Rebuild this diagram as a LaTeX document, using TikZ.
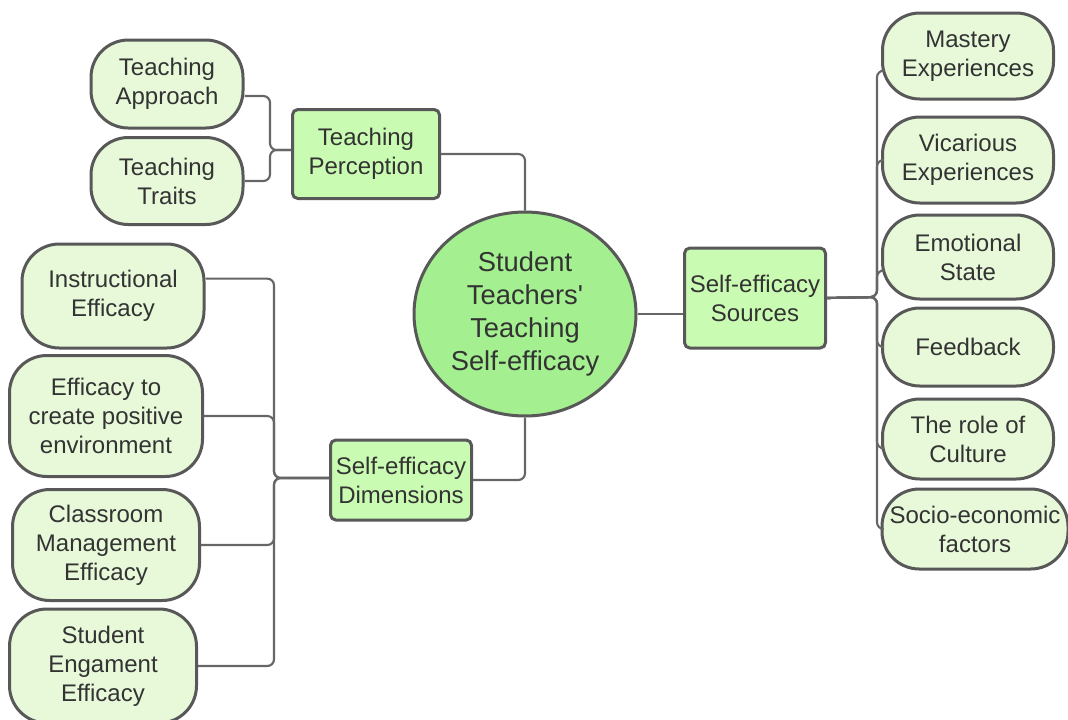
\documentclass[tikz,border=0pt]{standalone}
\usepackage{fontspec}
\setmainfont{Liberation Sans}
\usepackage{tikz}
\usetikzlibrary{shapes.geometric}
\usepackage{xcolor}
\definecolor{leaf}{HTML}{E7F9D9}
\definecolor{hub}{HTML}{CAFBB2}
\definecolor{core}{HTML}{A4F090}
\definecolor{rim}{HTML}{585858}
\definecolor{wire}{HTML}{666666}
\definecolor{ink}{HTML}{333333}
\tikzset{%
    box/.style={draw=rim,line width=2.25pt,align=center,inner sep=0pt,text=ink},
    leafbox/.style={box,fill=leaf,rounded corners=28pt,font=\fontsize{18}{21.75}\selectfont},
    hubbox/.style={box,fill=hub,rounded corners=4pt,font=\fontsize{18}{21.75}\selectfont},
    link/.style={draw=wire,line width=1.6pt,rounded corners=5pt}
}

\begin{document}
\begin{tikzpicture}[x=0.75pt,y=-0.75pt]
    \useasboundingbox (0,0) rectangle (1068,719);
    % middle
    \node[box,ellipse,fill=core,minimum width=166.5pt,minimum height=153pt,
        font=\fontsize{20.5}{24.75}\selectfont](C) at (525,314)
        {Student\\Teachers\textquotesingle\\Teaching\\Self-efficacy};
    \node[hubbox,minimum width=110.25pt,minimum height=66.75pt](TP) at (366,154) {Teaching\\Perception};
    \node[hubbox,minimum width=105.75pt,minimum height=60pt](SD) at (401,480) {Self-efficacy\\Dimensions};
    \node[hubbox,minimum width=105.75pt,minimum height=75pt](SS) at (755,298) {Self-efficacy\\Sources};
    % perception
    \node[leafbox,minimum width=114pt,minimum height=66pt](TA) at (167,84) {Teaching\\Approach};
    \node[leafbox,minimum width=114pt,minimum height=65.25pt](TT) at (167,181) {Teaching\\Traits};
    % dimensions
    \node[leafbox,minimum width=136.5pt,minimum height=78pt](IE) at (113,296) {Instructional\\Efficacy};
    \node[leafbox,minimum width=144.75pt,minimum height=90.75pt](PE) at (106,416) {Efficacy to\\create positive\\environment};
    \node[leafbox,minimum width=140.25pt,minimum height=83.25pt](CM) at (106,545) {Classroom\\Management\\Efficacy};
    \node[leafbox,minimum width=140.25pt,minimum height=85.5pt](SE) at (103,666) {Student\\Engament\\Efficacy};
    % sources
    \node[leafbox,minimum width=128.25pt,minimum height=64.5pt](ME) at (968,56) {Mastery\\Experiences};
    \node[leafbox,minimum width=128.25pt,minimum height=64.5pt](VE) at (968,160) {Vicarious\\Experiences};
    \node[leafbox,minimum width=128.25pt,minimum height=63pt](ES) at (968,257) {Emotional\\State};
    \node[leafbox,minimum width=128.25pt,minimum height=58.5pt](FB) at (968,347) {Feedback};
    \node[leafbox,minimum width=128.25pt,minimum height=60pt](RC) at (968,439) {The role of\\Culture};
    \node[leafbox,minimum width=139.5pt,minimum height=60pt](SF) at (975,529) {Socio-economic\\factors};
    \coordinate (TJ) at (270,150);
    \coordinate (DJ) at (274,478);
    \coordinate (SJ) at (877,297);
    \foreach \n/\d in {TA/-9pt,TT/0pt}
        \draw[link] ([yshift=\d]\n.east) -| (TJ) -- (TJ -| TP.west);
    \foreach \n/\d in {IE/13pt,PE/0pt,CM/0pt,SE/0pt}
        \draw[link] ([yshift=\d]\n.east) -| (DJ) -- (DJ -| SD.west);
    \foreach \n/\d in {ME/-11pt,VE/0pt,ES/-10pt,FB/0pt,RC/-7pt,SF/0pt}
        \draw[link] (SS.east) -- (SJ) |- ([yshift=\d]\n.west);
    \draw[link] (TP.east) -| (C.north);
    \draw[link] (SD.east) -| (C.south);
    \draw[link] (C.east) -- (C.east -| SS.west);
\end{tikzpicture}
\end{document}
